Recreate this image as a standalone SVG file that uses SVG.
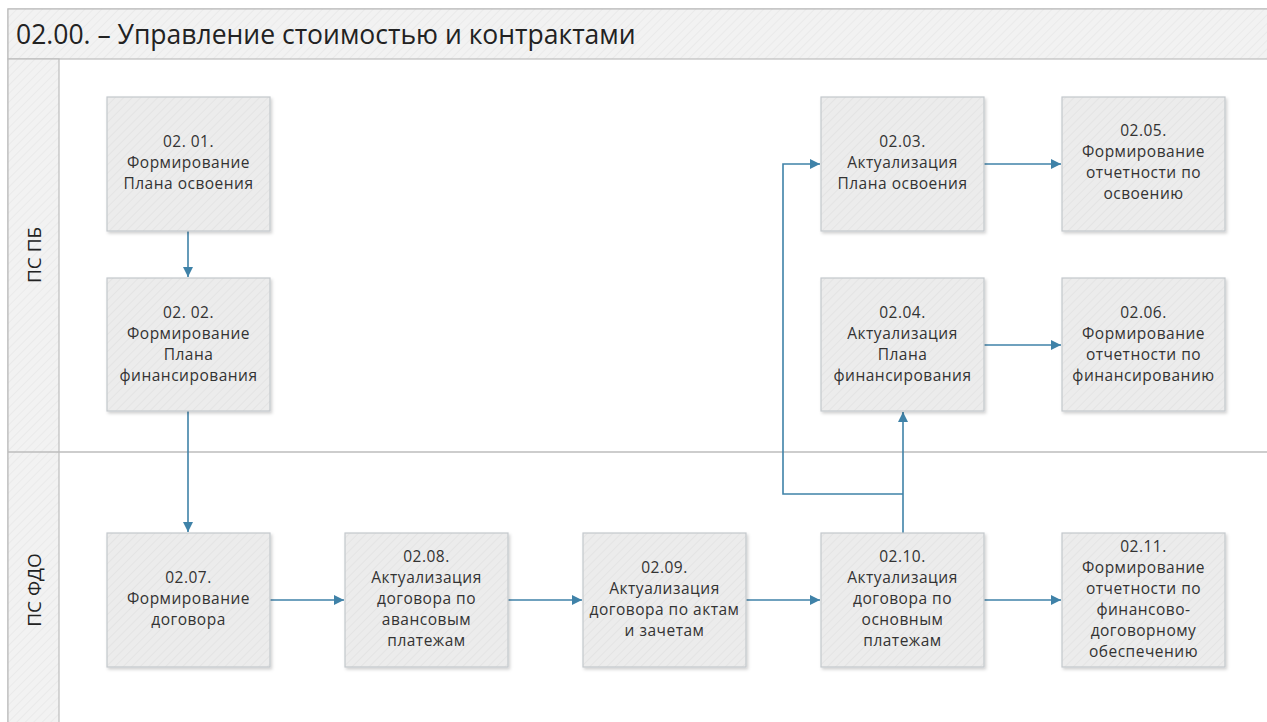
<svg xmlns="http://www.w3.org/2000/svg" width="1267" height="722" viewBox="0 0 1267 722">
<defs>
<pattern id="hatch" width="6" height="6" patternUnits="userSpaceOnUse" patternTransform="rotate(45)">
<rect width="6" height="6" fill="#ececec"/>
<line x1="0" y1="0" x2="0" y2="6" stroke="#e4e4e4" stroke-width="2"/>
</pattern>
<pattern id="hatch2" width="6" height="6" patternUnits="userSpaceOnUse" patternTransform="rotate(45)">
<rect width="6" height="6" fill="#f2f2f2"/>
<line x1="0" y1="0" x2="0" y2="6" stroke="#eaeaea" stroke-width="2"/>
</pattern>
<filter id="sh" x="-10%" y="-10%" width="125%" height="125%">
<feDropShadow dx="1.5" dy="2" stdDeviation="1.5" flood-color="#000" flood-opacity="0.18"/>
</filter>
<marker id="arr" viewBox="0 0 10 10" refX="10" refY="5" markerWidth="10" markerHeight="10" markerUnits="userSpaceOnUse" orient="auto">
<path d="M0,0 L10,5 L0,10 Z" fill="#3f82a8"/>
</marker>
<style>
.node rect{fill:url(#hatch);stroke:#c4c8cc;stroke-width:1.2;filter:url(#sh)}
.node text{font-family:"Open Sans","Noto Sans",sans-serif;font-size:15.5px;fill:#333;text-anchor:middle;letter-spacing:0.5px}
.conn path{fill:none;stroke:#3f82a8;stroke-width:1.6}
.lane{font-family:"Open Sans","Noto Sans",sans-serif;font-size:19px;fill:#222;text-anchor:middle}
.title{font-family:"Open Sans","Noto Sans",sans-serif;font-size:26.5px;fill:#222}
</style>
</defs>
<rect width="1267" height="722" fill="#fff"/>
<g id="frame">
<rect x="8" y="9" width="1270" height="730" fill="#fff" stroke="#bdbdbd" stroke-width="1.2"/>
<rect x="8" y="9" width="1270" height="50" fill="url(#hatch2)" stroke="#bdbdbd" stroke-width="1.2"/>
<rect x="8" y="59" width="51" height="680" fill="url(#hatch2)" stroke="#bdbdbd" stroke-width="1.2"/>
<line x1="8" y1="452" x2="1267" y2="452" stroke="#bdbdbd" stroke-width="1.5"/>
<text class="title" x="16" y="44">02.00. – Управление стоимостью и контрактами</text>
</g>
<g id="lane-pb"><text class="lane" transform="translate(41,255) rotate(-90)">ПС ПБ</text></g>
<g id="lane-fdo"><text class="lane" transform="translate(41,590) rotate(-90)">ПС ФДО</text></g>
<g class="conn" id="connectors">
<path d="M188,231 V277" marker-end="url(#arr)"/>
<path d="M188,411 V532" marker-end="url(#arr)"/>
<path d="M270,600 H344" marker-end="url(#arr)"/>
<path d="M508,600 H582" marker-end="url(#arr)"/>
<path d="M746,600 H820" marker-end="url(#arr)"/>
<path d="M984,600 H1061" marker-end="url(#arr)"/>
<path d="M903,533 V412" marker-end="url(#arr)"/>
<path d="M903,494 H783 V164 H820" marker-end="url(#arr)"/>
<path d="M984,164 H1061" marker-end="url(#arr)"/>
<path d="M984,345 H1061" marker-end="url(#arr)"/>
</g>
<g class="node" id="n0201"><rect x="107" y="97" width="163" height="134"/>
<text x="188.5" y="147">02. 01.</text><text x="188.5" y="168">Формирование</text><text x="188.5" y="189">Плана освоения</text></g>
<g class="node" id="n0202"><rect x="107" y="278" width="163" height="133"/>
<text x="188.5" y="318">02. 02.</text><text x="188.5" y="339">Формирование</text><text x="188.5" y="360">Плана</text><text x="188.5" y="381">финансирования</text></g>
<g class="node" id="n0203"><rect x="821" y="97" width="163" height="134"/>
<text x="902.5" y="147">02.03.</text><text x="902.5" y="168">Актуализация</text><text x="902.5" y="189">Плана освоения</text></g>
<g class="node" id="n0205"><rect x="1062" y="97" width="163" height="134"/>
<text x="1143.5" y="136">02.05.</text><text x="1143.5" y="157">Формирование</text><text x="1143.5" y="178">отчетности по</text><text x="1143.5" y="199">освоению</text></g>
<g class="node" id="n0204"><rect x="821" y="278" width="163" height="133"/>
<text x="902.5" y="318">02.04.</text><text x="902.5" y="339">Актуализация</text><text x="902.5" y="360">Плана</text><text x="902.5" y="381">финансирования</text></g>
<g class="node" id="n0206"><rect x="1062" y="278" width="163" height="133"/>
<text x="1143.5" y="318">02.06.</text><text x="1143.5" y="339">Формирование</text><text x="1143.5" y="360">отчетности по</text><text x="1143.5" y="381">финансированию</text></g>
<g class="node" id="n0207"><rect x="107" y="533" width="163" height="134"/>
<text x="188.5" y="583">02.07.</text><text x="188.5" y="604">Формирование</text><text x="188.5" y="625">договора</text></g>
<g class="node" id="n0208"><rect x="345" y="533" width="163" height="134"/>
<text x="426.5" y="562">02.08.</text><text x="426.5" y="583">Актуализация</text><text x="426.5" y="604">договора по</text><text x="426.5" y="625">авансовым</text><text x="426.5" y="646">платежам</text></g>
<g class="node" id="n0209"><rect x="583" y="533" width="163" height="134"/>
<text x="664.5" y="573">02.09.</text><text x="664.5" y="594">Актуализация</text><text x="664.5" y="615">договора по актам</text><text x="664.5" y="636">и зачетам</text></g>
<g class="node" id="n0210"><rect x="821" y="533" width="163" height="134"/>
<text x="902.5" y="562">02.10.</text><text x="902.5" y="583">Актуализация</text><text x="902.5" y="604">договора по</text><text x="902.5" y="625">основным</text><text x="902.5" y="646">платежам</text></g>
<g class="node" id="n0211"><rect x="1062" y="533" width="163" height="134"/>
<text x="1143.5" y="552">02.11.</text><text x="1143.5" y="573">Формирование</text><text x="1143.5" y="594">отчетности по</text><text x="1143.5" y="615">финансово-</text><text x="1143.5" y="636">договорному</text><text x="1143.5" y="657">обеспечению</text></g>
</svg>
